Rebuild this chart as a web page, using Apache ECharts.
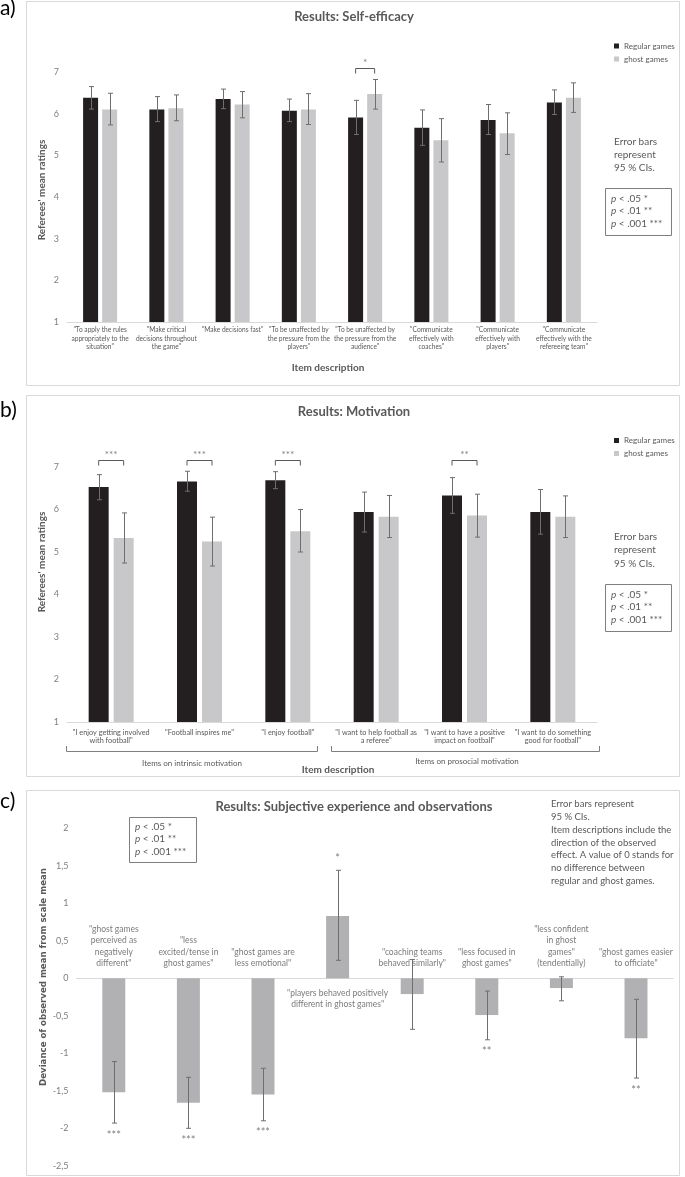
<!DOCTYPE html>
<html>
<head>
<meta charset="utf-8">
<script src="https://cdn.jsdelivr.net/npm/echarts@6/dist/echarts.min.js"></script>
<style>
html,body{margin:0;padding:0;background:#fff;}
#chart{width:685px;height:1177px;}
</style>
</head>
<body>
<div id="chart"></div>
<script>
// ---------- Panel a: Self-efficacy ----------
const catA = [
  '"To apply the rules\nappropriately to the\nsituation"',
  '"Make critical\ndecisions throughout\nthe game"',
  '"Make decisions fast"',
  '"To be unaffected by\nthe pressure from the\nplayers"',
  '"To be unaffected by\nthe pressure from the\naudience"',
  '"Communicate\neffectively with\ncoaches"',
  '"Communicate\neffectively with\nplayers"',
  '"Communicate\neffectively with the\nrefereeing team"'
];
const regA    = [6.38, 6.10, 6.35, 6.07, 5.91, 5.66, 5.85, 6.27];
const regALo  = [6.11, 5.81, 6.12, 5.81, 5.50, 5.24, 5.50, 5.98];
const regAHi  = [6.65, 6.41, 6.59, 6.35, 6.32, 6.09, 6.22, 6.57];
const ghostA   = [6.10, 6.13, 6.22, 6.10, 6.47, 5.36, 5.53, 6.38];
const ghostALo = [5.73, 5.83, 5.90, 5.74, 6.11, 4.84, 5.02, 6.03];
const ghostAHi = [6.49, 6.45, 6.53, 6.48, 6.82, 5.88, 6.02, 6.74];
const sigA = ['', '', '', '', '*', '', '', ''];

// ---------- Panel b: Motivation ----------
const catB = [
  '"I enjoy getting involved\nwith football"',
  '"Football inspires me"',
  '"I enjoy football"',
  '"I want to help football as\na referee"',
  '"I want to have a positive\nimpact on football"',
  '"I want to do something\ngood for football"'
];
const regB    = [6.53, 6.66, 6.69, 5.94, 6.33, 5.94];
const regBLo  = [6.23, 6.43, 6.49, 5.47, 5.91, 5.42];
const regBHi  = [6.82, 6.90, 6.89, 6.41, 6.75, 6.47];
const ghostB   = [5.33, 5.25, 5.49, 5.83, 5.86, 5.83];
const ghostBLo = [4.74, 4.67, 5.00, 5.34, 5.35, 5.34];
const ghostBHi = [5.92, 5.82, 6.00, 6.33, 6.36, 6.32];
const sigB = ['***', '***', '***', '', '**', ''];

// ---------- Panel c: Subjective experience ----------
const catC = [
  '"ghost games\nperceived as\nnegatively\ndifferent"',
  '"less\nexcited/tense in\nghost games"',
  '"ghost games are\nless emotional"',
  '"players behaved positively\ndifferent in ghost games"',
  '"coaching teams\nbehaved similarly"',
  '"less focused in\nghost games"',
  '"less confident\nin ghost\ngames"\n(tendentially)',
  '"ghost games easier\nto officiate"'
];
const valC = [-1.52, -1.66, -1.55, 0.83, -0.21, -0.49, -0.13, -0.80];
const loC  = [-1.93, -2.00, -1.90, 0.24, -0.68, -0.82, -0.30, -1.33];
const hiC  = [-1.11, -1.32, -1.20, 1.44, 0.25, -0.17, 0.02, -0.28];
const sigC = ['***', '***', '***', '*', '', '**', '', '**'];

// ---------- styling ----------
const FONT = 'Lato';
const BLACK = '#231f20';
const LGRAY = '#c8c8ca';
const CGRAY = '#b1b1b4';
const ERR = '#6e6e6e';
const TXT = '#595959';
const TICK = '#7f7f7f';

function errRender(offset) {
  return function (params, api) {
    const i = api.value(0);
    const p1 = api.coord([i, api.value(1)]);
    const p2 = api.coord([i, api.value(2)]);
    const x = Math.round(p1[0] + offset) + 0.5;
    const cw = 2.5;
    const st = { stroke: ERR, lineWidth: 1 };
    return {
      type: 'group',
      children: [
        { type: 'line', shape: { x1: x, y1: p1[1], x2: x, y2: p2[1] }, style: st },
        { type: 'line', shape: { x1: x - cw, y1: p1[1], x2: x + cw, y2: p1[1] }, style: st },
        { type: 'line', shape: { x1: x - cw, y1: p2[1], x2: x + cw, y2: p2[1] }, style: st }
      ]
    };
  };
}

function bracketRender(sig, topVal, lift, half, starGap) {
  return function (params, api) {
    const s = sig[params.dataIndex];
    if (!s) return;
    const p = api.coord([api.value(0), topVal]);
    const y = Math.round(p[1] - lift) + 0.5;
    const x = p[0];
    return {
      type: 'group',
      children: [
        { type: 'polyline', shape: { points: [[x - half, y + 5], [x - half, y], [x + half, y], [x + half, y + 5]] },
          style: { stroke: '#595959', lineWidth: 1, fill: null } },
        { type: 'text', style: { text: s, x: x, y: y - starGap, align: 'center', verticalAlign: 'middle',
          fill: TICK, font: '10px ' + FONT } }
      ]
    };
  };
}

function starRender(sig, vals, gap) {
  return function (params, api) {
    const k = params.dataIndex;
    const s = sig[k];
    if (!s) return;
    const p = api.coord([api.value(0), api.value(1)]);
    const dir = vals[k] < 0 ? 1 : -1;
    return {
      type: 'text',
      style: { text: s, x: p[0], y: p[1] + dir * gap, align: 'center', verticalAlign: 'middle',
        fill: TICK, font: '11px ' + FONT }
    };
  };
}

function catAxis(idx, data, fontSize, lineHeight, margin, show) {
  return {
    type: 'category', gridIndex: idx, data: data,
    axisLine: { show: true, onZero: true, lineStyle: { color: '#d9d9d9', width: 1 } },
    axisTick: { show: false },
    axisLabel: { show: show, interval: 0, margin: margin, fontSize: fontSize, lineHeight: lineHeight,
      color: TXT, fontFamily: FONT, align: 'center' }
  };
}

function valAxis(idx, min, max, interval, fmt) {
  return {
    type: 'value', gridIndex: idx, min: min, max: max, interval: interval,
    splitLine: { show: false }, axisLine: { show: false }, axisTick: { show: false },
    axisLabel: { fontSize: 9, color: TICK, fontFamily: FONT, margin: 8, formatter: fmt }
  };
}

const errA = (lo, hi) => lo.map((v, i) => [i, v, hi[i]]);
const idxData = (arr) => arr.map((c, i) => [i, 0]);

const legendBase = {
  data: ['Regular games', 'ghost games'], orient: 'vertical', left: 609,
  itemWidth: 5, itemHeight: 5, itemGap: 5, icon: 'rect', selectedMode: false,
  textStyle: { fontSize: 8, color: TXT, fontFamily: FONT }
};

const frameStyle = { stroke: '#d9d9d9', lineWidth: 1, fill: null };
function txt(x, y, text, size, opts) {
  return Object.assign({
    type: 'text', x: x, y: y,
    style: Object.assign({ text: text, fill: TXT, font: size + 'px ' + FONT, align: 'left', verticalAlign: 'middle' },
      (opts && opts.style) || {})
  }, (opts && opts.el) || {});
}
const pRich = {
  i: { fontStyle: 'italic', fontSize: 10, fontFamily: FONT, fill: TXT, lineHeight: 12.7 },
  n: { fontSize: 10, fontFamily: FONT, fill: TXT, lineHeight: 12.7 }
};
function pBox(x, y, w, h, tx, ty) {
  return [
    { type: 'rect', shape: { x: x + 0.5, y: y + 0.5, width: w, height: h }, style: { stroke: '#7f7f7f', lineWidth: 1, fill: null } },
    { type: 'text', x: tx, y: ty, style: { text: '{i|p}{n| < .05 *}\n{i|p}{n| < .01 **}\n{i|p}{n| < .001 ***}',
      rich: pRich, align: 'left', verticalAlign: 'top' } }
  ];
}

const graphic = [
  { type: 'rect', shape: { x: 26.5, y: 1.5, width: 653, height: 384 }, style: frameStyle },
  { type: 'rect', shape: { x: 26.5, y: 395.5, width: 653, height: 381 }, style: frameStyle },
  { type: 'rect', shape: { x: 26.5, y: 790.5, width: 653, height: 385 }, style: frameStyle },
  txt(0, 8, 'a)', 21, { style: { fill: '#000' } }),
  txt(0, 410, 'b)', 21, { style: { fill: '#000' } }),
  txt(0, 801, 'c)', 21, { style: { fill: '#000' } }),
  txt(354, 17, 'Results: Self-efficacy', 13, { style: { align: 'center', font: 'bold 13px ' + FONT } }),
  txt(354, 412, 'Results: Motivation', 13, { style: { align: 'center', font: 'bold 13px ' + FONT } }),
  txt(354, 807, 'Results: Subjective experience and observations', 13, { style: { align: 'center', font: 'bold 13px ' + FONT } }),
  // y-axis names
  txt(42, 190, "Referees' mean ratings", 10, { style: { align: 'center', font: 'bold 10px ' + FONT }, el: { rotation: Math.PI / 2 } }),
  txt(42, 562, "Referees' mean ratings", 10, { style: { align: 'center', font: 'bold 10px ' + FONT }, el: { rotation: Math.PI / 2 } }),
  txt(44, 977, 'Deviance of observed mean from scale mean', 9, { style: { align: 'center', font: 'bold 8.6px "DejaVu Sans"' }, el: { rotation: Math.PI / 2 } }),
  // x-axis names
  txt(328, 368, 'Item description', 10, { style: { align: 'center', font: 'bold 10px ' + FONT } }),
  txt(338, 770, 'Item description', 10, { style: { align: 'center', font: 'bold 10px ' + FONT } }),
  // group brackets panel b
  { type: 'polyline', shape: { points: [[66.5, 746], [66.5, 751.5], [317.5, 751.5], [317.5, 746]] }, style: { stroke: '#7f7f7f', lineWidth: 1, fill: null } },
  { type: 'polyline', shape: { points: [[331.5, 746], [331.5, 751.5], [599.5, 751.5], [599.5, 746]] }, style: { stroke: '#7f7f7f', lineWidth: 1, fill: null } },
  txt(192, 763, 'Items on intrinsic motivation', 8, { style: { align: 'center' } }),
  txt(467, 761, 'Items on prosocial motivation', 8, { style: { align: 'center' } }),
  // notes
  { type: 'text', x: 614, y: 135, style: { text: 'Error bars\nrepresent\n95 % CIs.', fill: TXT, font: '10px ' + FONT, lineHeight: 13, align: 'left', verticalAlign: 'top' } },
  { type: 'text', x: 614, y: 530, style: { text: 'Error bars\nrepresent\n95 % CIs.', fill: TXT, font: '10px ' + FONT, lineHeight: 13.5, align: 'left', verticalAlign: 'top' } },
  { type: 'text', x: 551, y: 798, style: { text: 'Error bars represent\n95 % CIs.\nItem descriptions include the\ndirection of the observed\neffect. A value of 0 stands for\nno difference between\nregular and ghost games.', fill: TXT, font: '9.5px ' + FONT, lineHeight: 12.7, align: 'left', verticalAlign: 'top' } }
].concat(pBox(605, 188, 66, 47, 611, 192))
 .concat(pBox(605, 584, 66, 47, 611, 588))
 .concat(pBox(129, 817, 67, 45, 135, 820));

const option = {
  animation: false,
  backgroundColor: '#fff',
  textStyle: { fontFamily: FONT },
  grid: [
    { left: 67, right: 88, top: 72, bottom: 855 },
    { left: 67, right: 88, top: 467, bottom: 455 },
    { left: 76.5, right: 11.7, top: 828.3, bottom: 11.2 }
  ],
  legend: [
    Object.assign({}, legendBase, { top: 37 }),
    Object.assign({}, legendBase, { top: 431.5 })
  ],
  xAxis: [
    catAxis(0, catA, 6.6, 8.5, 4, true),
    catAxis(1, catB, 7.3, 8.5, 6, true),
    catAxis(2, catC, 8, 11, 8, false)
  ],
  yAxis: [
    valAxis(0, 1, 7, 1),
    valAxis(1, 1, 7, 1),
    valAxis(2, -2.5, 2, 0.5, (v) => String(v).replace('.', ','))
  ],
  graphic: graphic,
  series: [
    // panel a
    { name: 'Regular games', type: 'bar', xAxisIndex: 0, yAxisIndex: 0, data: regA, barWidth: 15, barGap: '27%', itemStyle: { color: BLACK } },
    { name: 'ghost games', type: 'bar', xAxisIndex: 0, yAxisIndex: 0, data: ghostA, barWidth: 15, barGap: '27%', itemStyle: { color: LGRAY } },
    { type: 'custom', xAxisIndex: 0, yAxisIndex: 0, data: errA(regALo, regAHi), encode: { x: 0, y: [1, 2] }, renderItem: errRender(-9.5), z: 5 },
    { type: 'custom', xAxisIndex: 0, yAxisIndex: 0, data: errA(ghostALo, ghostAHi), encode: { x: 0, y: [1, 2] }, renderItem: errRender(9.5), z: 5 },
    { type: 'custom', xAxisIndex: 0, yAxisIndex: 0, data: idxData(catA), encode: { x: 0, y: 1 }, clip: false, renderItem: bracketRender(sigA, 7, 4, 9.5, 6), z: 5 },
    // panel b
    { name: 'Regular games', type: 'bar', xAxisIndex: 1, yAxisIndex: 1, data: regB, barWidth: 20, barGap: '25%', itemStyle: { color: BLACK } },
    { name: 'ghost games', type: 'bar', xAxisIndex: 1, yAxisIndex: 1, data: ghostB, barWidth: 20, barGap: '25%', itemStyle: { color: LGRAY } },
    { type: 'custom', xAxisIndex: 1, yAxisIndex: 1, data: errA(regBLo, regBHi), encode: { x: 0, y: [1, 2] }, renderItem: errRender(-12.5), z: 5 },
    { type: 'custom', xAxisIndex: 1, yAxisIndex: 1, data: errA(ghostBLo, ghostBHi), encode: { x: 0, y: [1, 2] }, renderItem: errRender(12.5), z: 5 },
    { type: 'custom', xAxisIndex: 1, yAxisIndex: 1, data: idxData(catB), encode: { x: 0, y: 1 }, clip: false, renderItem: bracketRender(sigB, 7, 6.7, 12.5, 6), z: 5 },
    // panel c
    { type: 'bar', xAxisIndex: 2, yAxisIndex: 2, data: valC, barWidth: 23, itemStyle: { color: CGRAY } },
    { type: 'custom', xAxisIndex: 2, yAxisIndex: 2, data: errA(loC, hiC), encode: { x: 0, y: [1, 2] }, renderItem: errRender(0), z: 5 },
    { type: 'custom', xAxisIndex: 2, yAxisIndex: 2, data: valC.map((v, i) => [i, v < 0 ? loC[i] : hiC[i]]), encode: { x: 0, y: 1 }, clip: false, renderItem: starRender(sigC, valC, 12), z: 5 },
    { type: 'scatter', xAxisIndex: 2, yAxisIndex: 2, symbolSize: 0, silent: true, z: 6,
      data: catC.map((c, i) => ({ name: c, value: [i, 0], label: { position: valC[i] < 0 ? 'top' : 'bottom' } })),
      label: { show: true, formatter: '{b}', distance: 9, fontSize: 8.5, lineHeight: 11.5, color: TXT, fontFamily: FONT, align: 'center' } }
  ]
};

const chart = echarts.init(document.getElementById('chart'), null, { renderer: 'canvas' });
chart.setOption(option);
</script>
</body>
</html>
